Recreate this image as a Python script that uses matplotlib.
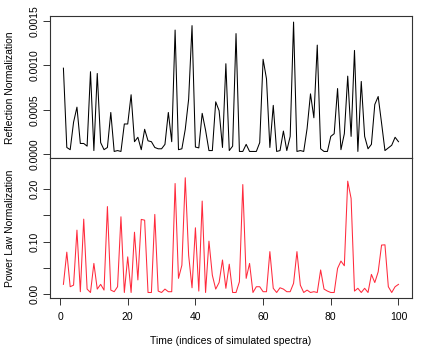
import matplotlib.pyplot as plt
import numpy as np

plt.rcParams['font.family'] = ['Liberation Sans', 'DejaVu Sans']

# time index of each simulated spectrum
time_idx = np.arange(1, 101)

reflection = [
    0.00097, 0.000075, 0.00005, 0.00036, 0.00053, 0.00012, 0.00012, 0.00009, 0.00093, 0.00004,
    0.00091, 0.00013, 0.00005, 0.000075, 0.00047, 0.00003, 0.00004, 0.00003, 0.00034, 0.00034,
    0.00067, 0.00014, 0.00019, 0.00005, 0.00028, 0.00015, 0.00014, 0.000075, 0.00006, 0.00006,
    0.00011, 0.00047, 0.00014, 0.00140, 0.00005, 0.00006, 0.00028, 0.00062, 0.00145, 0.00008,
    0.00007, 0.00046, 0.00027, 0.00004, 0.00004, 0.00059, 0.00049, 0.000075, 0.00102, 0.00004,
    0.00009, 0.00136, 0.00003, 0.00003, 0.00011, 0.00003, 0.00003, 0.00003, 0.00013, 0.00107,
    0.00085, 0.000075, 0.00055, 0.00003, 0.00004, 0.00026, 0.00004, 0.00020, 0.00149, 0.00003,
    0.00004, 0.00003, 0.00029, 0.00068, 0.00041, 0.00123, 0.00006, 0.00003, 0.00003, 0.00020,
    0.00023, 0.00074, 0.00005, 0.00023, 0.00088, 0.00020, 0.00117, 0.00003, 0.00082, 0.00020,
    0.00006, 0.00011, 0.00056, 0.00065, 0.00035, 0.00004, 0.00007, 0.00010, 0.00019, 0.00014,
]

power_law = [
    0.0185, 0.080, 0.014, 0.017, 0.122, 0.0045, 0.143, 0.0095, 0.003, 0.0585,
    0.0095, 0.0185, 0.0076, 0.167, 0.0076, 0.0045, 0.014, 0.1475, 0.003, 0.071,
    0.003, 0.118, 0.027, 0.1425, 0.141, 0.003, 0.003, 0.152, 0.0057, 0.003,
    0.0095, 0.0045, 0.0045, 0.211, 0.030, 0.055, 0.222, 0.074, 0.012, 0.1265,
    0.0057, 0.1775, 0.003, 0.101, 0.036, 0.0095, 0.022, 0.065, 0.011, 0.057,
    0.003, 0.003, 0.0235, 0.209, 0.030, 0.0585, 0.003, 0.014, 0.014, 0.0045,
    0.0045, 0.081, 0.011, 0.003, 0.012, 0.0095, 0.0045, 0.0045, 0.0205, 0.081,
    0.017, 0.003, 0.0076, 0.003, 0.0045, 0.003, 0.046, 0.0095, 0.0057, 0.003,
    0.003, 0.049, 0.063, 0.054, 0.2155, 0.1825, 0.0057, 0.011, 0.003, 0.011,
    0.003, 0.0375, 0.022, 0.0425, 0.0935, 0.094, 0.014, 0.003, 0.014, 0.0185,
]

top_ticks = [0.0, 0.0005, 0.0010, 0.0015]
top_labels = ['0.0000', '0.0005', '0.0010', '0.0015']
bot_ticks = [0.0, 0.05, 0.10, 0.15, 0.20]
bot_labels = ['0.00', '', '0.10', '', '0.20']
x_ticks = [0, 20, 40, 60, 80, 100]

fig = plt.figure(figsize=(4.36, 3.49), dpi=100)
ax1 = fig.add_axes([0.1147, 0.547, 0.830, 0.407])
ax2 = fig.add_axes([0.1147, 0.146, 0.830, 0.401])

ax1.plot(time_idx, reflection, color='black', lw=0.75)
ax2.plot(time_idx, power_law, color='#ff2a3c', lw=0.75)

fs = 7.5
for ax in (ax1, ax2):
    ax.set_xlim(-2.96, 103.96)
    for s in ax.spines.values():
        s.set_color('#333333')
        s.set_linewidth(0.8)
    ax.tick_params(direction='out', length=4.8, width=0.7, color='#333333',
                   labelsize=fs, pad=3)

ax1.set_ylim(-0.000045, 0.001558)
ax1.set_yticks(top_ticks)
ax1.set_yticklabels(top_labels, rotation=90, va='center')
ax1.set_xticks([])

ax2.set_ylim(-0.0076, 0.2595)
ax2.set_yticks(bot_ticks)
ax2.set_yticklabels(bot_labels, rotation=90, va='center')
ax2.set_xticks(x_ticks)
ax2.tick_params(axis='x', pad=5)

# axis titles placed in figure coordinates, like R's outer margins
fig.text(0.022, 0.75, 'Reflection Normalization', rotation=90,
         ha='center', va='center', fontsize=fs)
fig.text(0.022, 0.346, 'Power Law Normalization', rotation=90,
         ha='center', va='center', fontsize=fs)
fig.text(0.53, 0.022, 'Time (indices of simulated spectra)',
         ha='center', va='center', fontsize=fs)

fig.savefig('out.png', dpi=100)
